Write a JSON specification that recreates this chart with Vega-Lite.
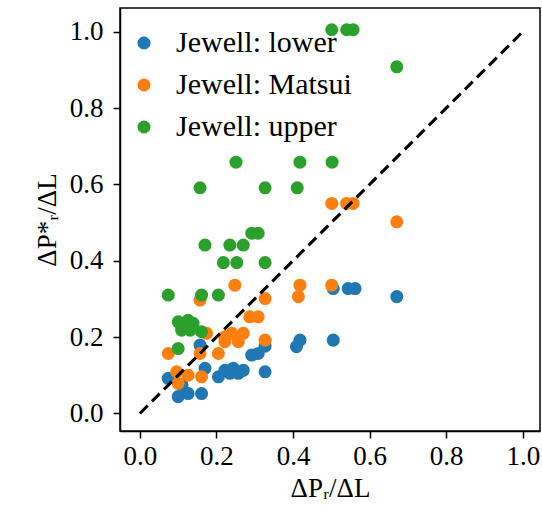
{
  "$schema": "https://vega.github.io/schema/vega-lite/v6.json",
  "autosize": {"type": "none"},
  "padding": {"left": 120, "top": 8, "right": 2, "bottom": 87},
  "width": 420,
  "height": 423,
  "background": "white",
  "config": {
    "view": {"stroke": "black", "strokeWidth": 1.5},
    "font": "Liberation Serif",
    "style": {
      "guide-label": {"font": "Liberation Serif", "fill": "black"},
      "guide-title": {"font": "Liberation Serif", "fill": "black"}
    },
    "axis": {
      "labelFont": "Liberation Serif",
      "titleFont": "Liberation Serif",
      "labelFontSize": 27,
      "titleFontSize": 27,
      "titleFontWeight": "normal",
      "labelColor": "black",
      "titleColor": "black",
      "domainColor": "black",
      "tickColor": "black",
      "tickSize": 7,
      "tickWidth": 1.5,
      "domainWidth": 1.5,
      "grid": false,
      "labelPadding": 5
    },
    "legend": {
      "labelFont": "Liberation Serif",
      "labelFontSize": 30,
      "labelColor": "black",
      "labelLimit": 0
    }
  },
  "layer": [
    {
      "data": {
        "values": [
          {"x": 0.074, "y": 0.092, "series": "Jewell: lower"},
          {"x": 0.100, "y": 0.044, "series": "Jewell: lower"},
          {"x": 0.126, "y": 0.052, "series": "Jewell: lower"},
          {"x": 0.161, "y": 0.052, "series": "Jewell: lower"},
          {"x": 0.110, "y": 0.075, "series": "Jewell: lower"},
          {"x": 0.157, "y": 0.179, "series": "Jewell: lower"},
          {"x": 0.170, "y": 0.118, "series": "Jewell: lower"},
          {"x": 0.205, "y": 0.096, "series": "Jewell: lower"},
          {"x": 0.222, "y": 0.113, "series": "Jewell: lower"},
          {"x": 0.235, "y": 0.105, "series": "Jewell: lower"},
          {"x": 0.244, "y": 0.118, "series": "Jewell: lower"},
          {"x": 0.257, "y": 0.105, "series": "Jewell: lower"},
          {"x": 0.270, "y": 0.113, "series": "Jewell: lower"},
          {"x": 0.292, "y": 0.153, "series": "Jewell: lower"},
          {"x": 0.309, "y": 0.157, "series": "Jewell: lower"},
          {"x": 0.327, "y": 0.109, "series": "Jewell: lower"},
          {"x": 0.327, "y": 0.176, "series": "Jewell: lower"},
          {"x": 0.409, "y": 0.175, "series": "Jewell: lower"},
          {"x": 0.418, "y": 0.192, "series": "Jewell: lower"},
          {"x": 0.505, "y": 0.192, "series": "Jewell: lower"},
          {"x": 0.505, "y": 0.327, "series": "Jewell: lower"},
          {"x": 0.544, "y": 0.327, "series": "Jewell: lower"},
          {"x": 0.562, "y": 0.327, "series": "Jewell: lower"},
          {"x": 0.671, "y": 0.306, "series": "Jewell: lower"},
          {"x": 0.074, "y": 0.157, "series": "Jewell: Matsui"},
          {"x": 0.096, "y": 0.109, "series": "Jewell: Matsui"},
          {"x": 0.100, "y": 0.079, "series": "Jewell: Matsui"},
          {"x": 0.126, "y": 0.100, "series": "Jewell: Matsui"},
          {"x": 0.161, "y": 0.096, "series": "Jewell: Matsui"},
          {"x": 0.157, "y": 0.157, "series": "Jewell: Matsui"},
          {"x": 0.157, "y": 0.297, "series": "Jewell: Matsui"},
          {"x": 0.174, "y": 0.210, "series": "Jewell: Matsui"},
          {"x": 0.205, "y": 0.157, "series": "Jewell: Matsui"},
          {"x": 0.222, "y": 0.201, "series": "Jewell: Matsui"},
          {"x": 0.222, "y": 0.188, "series": "Jewell: Matsui"},
          {"x": 0.240, "y": 0.210, "series": "Jewell: Matsui"},
          {"x": 0.257, "y": 0.188, "series": "Jewell: Matsui"},
          {"x": 0.270, "y": 0.210, "series": "Jewell: Matsui"},
          {"x": 0.248, "y": 0.336, "series": "Jewell: Matsui"},
          {"x": 0.287, "y": 0.253, "series": "Jewell: Matsui"},
          {"x": 0.309, "y": 0.253, "series": "Jewell: Matsui"},
          {"x": 0.327, "y": 0.192, "series": "Jewell: Matsui"},
          {"x": 0.327, "y": 0.301, "series": "Jewell: Matsui"},
          {"x": 0.414, "y": 0.306, "series": "Jewell: Matsui"},
          {"x": 0.418, "y": 0.336, "series": "Jewell: Matsui"},
          {"x": 0.501, "y": 0.336, "series": "Jewell: Matsui"},
          {"x": 0.501, "y": 0.550, "series": "Jewell: Matsui"},
          {"x": 0.540, "y": 0.550, "series": "Jewell: Matsui"},
          {"x": 0.557, "y": 0.550, "series": "Jewell: Matsui"},
          {"x": 0.671, "y": 0.502, "series": "Jewell: Matsui"},
          {"x": 0.074, "y": 0.310, "series": "Jewell: upper"},
          {"x": 0.100, "y": 0.170, "series": "Jewell: upper"},
          {"x": 0.100, "y": 0.240, "series": "Jewell: upper"},
          {"x": 0.126, "y": 0.244, "series": "Jewell: upper"},
          {"x": 0.139, "y": 0.236, "series": "Jewell: upper"},
          {"x": 0.109, "y": 0.218, "series": "Jewell: upper"},
          {"x": 0.131, "y": 0.218, "series": "Jewell: upper"},
          {"x": 0.161, "y": 0.214, "series": "Jewell: upper"},
          {"x": 0.161, "y": 0.310, "series": "Jewell: upper"},
          {"x": 0.157, "y": 0.591, "series": "Jewell: upper"},
          {"x": 0.170, "y": 0.441, "series": "Jewell: upper"},
          {"x": 0.205, "y": 0.310, "series": "Jewell: upper"},
          {"x": 0.218, "y": 0.395, "series": "Jewell: upper"},
          {"x": 0.235, "y": 0.441, "series": "Jewell: upper"},
          {"x": 0.253, "y": 0.395, "series": "Jewell: upper"},
          {"x": 0.251, "y": 0.658, "series": "Jewell: upper"},
          {"x": 0.270, "y": 0.441, "series": "Jewell: upper"},
          {"x": 0.292, "y": 0.472, "series": "Jewell: upper"},
          {"x": 0.309, "y": 0.472, "series": "Jewell: upper"},
          {"x": 0.327, "y": 0.395, "series": "Jewell: upper"},
          {"x": 0.327, "y": 0.591, "series": "Jewell: upper"},
          {"x": 0.411, "y": 0.591, "series": "Jewell: upper"},
          {"x": 0.418, "y": 0.658, "series": "Jewell: upper"},
          {"x": 0.502, "y": 0.658, "series": "Jewell: upper"},
          {"x": 0.501, "y": 1.005, "series": "Jewell: upper"},
          {"x": 0.540, "y": 1.005, "series": "Jewell: upper"},
          {"x": 0.557, "y": 1.005, "series": "Jewell: upper"},
          {"x": 0.671, "y": 0.908, "series": "Jewell: upper"}
        ]
      },
      "mark": {"type": "point", "filled": true, "opacity": 1, "size": 170, "shape": "circle"},
      "encoding": {
        "x": {
          "field": "x", "type": "quantitative",
          "scale": {"domain": [-0.052, 1.045], "nice": false, "zero": false},
          "axis": {"values": [0, 0.2, 0.4, 0.6, 0.8, 1.0], "format": ".1f", "title": "ΔPᵣ/ΔL", "titlePadding": 6, "labelFont": "Liberation Serif", "titleFont": "Liberation Serif"}
        },
        "y": {
          "field": "y", "type": "quantitative",
          "scale": {"domain": [-0.046, 1.062], "nice": false, "zero": false},
          "axis": {"values": [0, 0.2, 0.4, 0.6, 0.8, 1.0], "format": ".1f", "title": "ΔP*ᵣ/ΔL", "titlePadding": 8, "labelPadding": 10, "labelFont": "Liberation Serif", "titleFont": "Liberation Serif"}
        },
        "color": {
          "field": "series", "type": "nominal",
          "scale": {"domain": ["Jewell: lower", "Jewell: Matsui", "Jewell: upper"], "range": ["#1f77b4", "#ff7f0e", "#2ca02c"]},
          "legend": {
            "title": null,
            "orient": "none",
            "legendX": 9,
            "legendY": 20,
            "padding": 0,
            "labelFont": "Liberation Serif",
            "symbolSize": 170,
            "symbolType": "circle",
            "symbolStrokeWidth": 0,
            "rowPadding": 12,
            "labelOffset": 17
          }
        }
      }
    },
    {
      "data": {"values": [{"x": 0, "y": 0}, {"x": 1, "y": 1}]},
      "mark": {"type": "line", "color": "black", "strokeWidth": 3, "strokeDash": [11, 6]},
      "encoding": {
        "x": {"field": "x", "type": "quantitative"},
        "y": {"field": "y", "type": "quantitative"}
      }
    }
  ]
}
